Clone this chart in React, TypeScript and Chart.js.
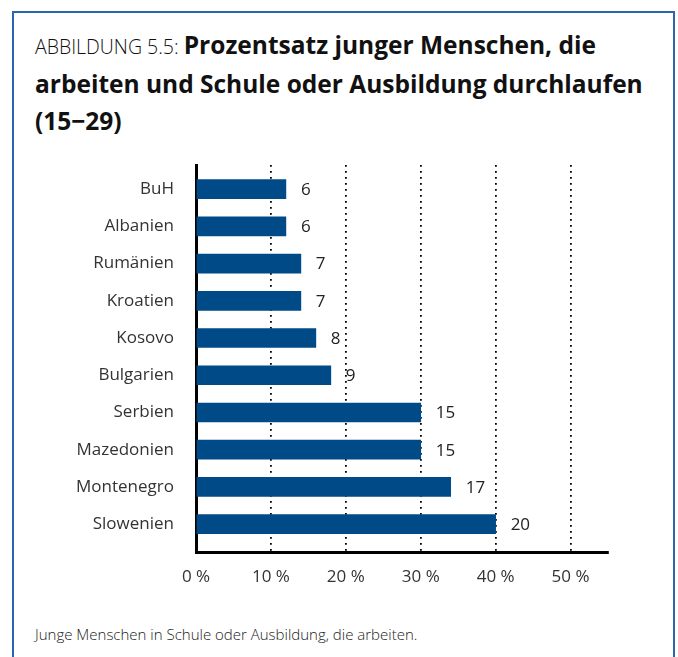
import React, { useEffect, useRef } from "react";
import { Chart, registerables } from "chart.js";

Chart.register(...registerables);

const categories = [
  "BuH",
  "Albanien",
  "Rumänien",
  "Kroatien",
  "Kosovo",
  "Bulgarien",
  "Serbien",
  "Mazedonien",
  "Montenegro",
  "Slowenien",
];
// bar lengths as drawn on the % axis
const barValues = [12, 12, 14, 14, 16, 18, 30, 30, 34, 40];
// numbers printed next to the bars
const valueLabels = ["6", "6", "7", "7", "8", "9", "15", "15", "17", "20"];
const xTicks = [0, 10, 20, 30, 40, 50];

const FONT = "'Open Sans', 'Noto Sans', sans-serif";

const valueLabelPlugin = {
  id: "valueLabels",
  afterDatasetsDraw(chart: any) {
    const ctx = chart.ctx;
    const meta = chart.getDatasetMeta(0);
    ctx.save();
    ctx.font = `17px ${FONT}`;
    ctx.fillStyle = "#222";
    ctx.textAlign = "left";
    ctx.textBaseline = "middle";
    meta.data.forEach((bar: any, i: number) => {
      ctx.fillText(valueLabels[i], bar.x + 15, bar.y + 1);
    });
    ctx.restore();
  },
};

export default function App() {
  const ref = useRef<HTMLCanvasElement | null>(null);

  useEffect(() => {
    if (!ref.current) return;
    const chart = new Chart(ref.current, {
      type: "bar",
      data: {
        datasets: [
          {
            data: barValues.map((v, i) => ({ x: v, y: i })),
            backgroundColor: "#004b87",
            barThickness: 19,
          },
        ],
      },
      options: {
        indexAxis: "y",
        animation: false,
        responsive: false,
        maintainAspectRatio: false,
        layout: { padding: { top: 25, right: 70, left: 0, bottom: 0 } },
        plugins: {
          legend: { display: false },
          tooltip: { enabled: false },
          title: { display: false },
        },
        scales: {
          x: {
            type: "linear",
            min: 0,
            max: 55,
            z: 1,
            afterBuildTicks: (s: any) => {
              s.ticks = xTicks.map((v) => ({ value: v }));
            },
            afterFit: (s: any) => {
              s.height = 48;
              s.paddingLeft = 0;
              s.paddingRight = 0;
            },
            ticks: {
              padding: 15,
              color: "#333",
              font: { family: FONT, size: 17 },
              callback: (v: any) => `${v} %`,
            },
            grid: {
              drawTicks: false,
              color: (c: any) => (c.tick && c.tick.value === 0 ? "rgba(0,0,0,0)" : "#000"),
              lineWidth: 1.8,
            },
            border: { display: true, color: "#000", width: 3, dash: [1.8, 4.2] },
          } as any,
          y: {
            type: "linear",
            min: -0.65,
            max: 9.75,
            reverse: true,
            offset: false,
            z: 1,
            afterBuildTicks: (s: any) => {
              s.ticks = categories.map((_, i) => ({ value: i }));
            },
            afterFit: (s: any) => {
              s.width = 196;
              s.paddingTop = 0;
              s.paddingBottom = 0;
            },
            ticks: {
              padding: 22,
              color: "#333",
              font: { family: FONT, size: 17 },
              callback: (v: any) => categories[v],
            },
            grid: { display: false, drawTicks: false },
            border: { display: true, color: "#000", width: 3 },
          } as any,
        },
      },
      plugins: [valueLabelPlugin],
    } as any);
    return () => chart.destroy();
  }, []);

  return (
    <div
      style={{
        position: "fixed",
        left: 0,
        top: 0,
        width: 678,
        height: 657,
        background: "#fff",
        overflow: "hidden",
        fontFamily: FONT,
      }}
    >
      <div
        style={{
          position: "absolute",
          left: 12,
          top: 11,
          width: 659,
          height: 700,
          border: "2px solid #2a65ad",
        }}
      />
      <div
        style={{
          position: "absolute",
          left: 35,
          top: 26,
          fontSize: 24.5,
          fontWeight: 700,
          lineHeight: "37px",
          color: "#111",
          whiteSpace: "nowrap",
        }}
      >
        <span style={{ fontWeight: 300, fontSize: 19.5 }}>ABBILDUNG 5.5: </span>
        Prozentsatz junger Menschen, die
        <br />
        arbeiten und Schule oder Ausbildung durchlaufen
        <br />
        (15−29)
      </div>
      <canvas
        ref={ref}
        width={678}
        height={460}
        style={{ position: "absolute", left: 0, top: 140, width: 678, height: 460 }}
      />
      <div
        style={{
          position: "absolute",
          left: 35,
          top: 624,
          fontSize: 15,
          fontWeight: 300,
          color: "#222",
          whiteSpace: "nowrap",
        }}
      >
        Junge Menschen in Schule oder Ausbildung, die arbeiten.
      </div>
    </div>
  );
}
